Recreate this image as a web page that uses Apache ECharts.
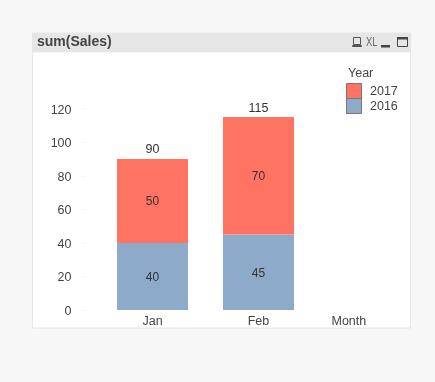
<!DOCTYPE html>
<html><head><meta charset="utf-8">
<style>html,body{margin:0;padding:0;background:#f7f7f7}#c{width:435px;height:382px}</style>
<script src="https://cdn.jsdelivr.net/npm/echarts@6/dist/echarts.min.js"></script>
</head><body><div id="c"></div>
<script>
const months = ['Jan','Feb'];
const sales2016 = [40,45];
const sales2017 = [50,70];
const totals = [90,115];
const chart = echarts.init(document.getElementById('c'),null,{renderer:'canvas'});
const F = 'Liberation Sans, Arial, sans-serif';
const seg = {show:true,position:'inside',color:'#333',fontFamily:F,fontSize:12,offset:[0,1]};
chart.setOption({
  animation:false,
  backgroundColor:'#f7f7f7',
  title:{text:'sum(Sales)',left:37,top:35,padding:0,textStyle:{fontFamily:F,fontSize:14,fontWeight:'bold',color:'#444'}},
  legend:{
    orient:'vertical',left:346,top:84,padding:0,itemGap:0,itemWidth:15,itemHeight:15,
    icon:'rect',data:['2017','2016'],selectedMode:false,
    textStyle:{fontFamily:F,fontSize:12.5,color:'#444',padding:[1,0,0,4]}
  },
  grid:{left:99.5,right:123.5,top:108.7,bottom:72},
  xAxis:{type:'category',data:months,
    axisLine:{show:false},axisTick:{show:false},
    axisLabel:{fontFamily:F,fontSize:12.5,color:'#444',margin:5},
    name:'Month',nameLocation:'end',nameGap:20,
    nameTextStyle:{fontFamily:F,fontSize:12.5,color:'#444',align:'left',verticalAlign:'top',padding:[5,0,0,0]}
  },
  yAxis:{type:'value',min:0,max:120,interval:20,offset:14,
    splitLine:{show:false},axisLine:{show:false},
    axisTick:{show:true,length:5,lineStyle:{color:'#f6f6f6'}},
    axisLabel:{fontFamily:F,fontSize:12.5,color:'#444',margin:14,verticalAlign:'top',lineHeight:3}
  },
  series:[
    {name:'2016',type:'bar',stack:'s',data:sales2016,barWidth:71,itemStyle:{color:'#8eaacb'},label:seg},
    {name:'2017',type:'bar',stack:'s',data:sales2017,barWidth:71,itemStyle:{color:'#ff7362'},label:seg},
    {name:'Total',type:'line',data:totals,symbol:'circle',symbolSize:1,showSymbol:true,itemStyle:{opacity:0},lineStyle:{opacity:0},
      label:{show:true,position:'top',distance:2,color:'#333',fontFamily:F,fontSize:12.5,opacity:1},silent:true}
  ],
  graphic:[
    {type:'rect',z:-1,silent:true,shape:{x:32.5,y:33,width:378,height:295},style:{fill:'#fff',stroke:'#e6e6e6',lineWidth:1}},
    {type:'rect',z:-1,silent:true,shape:{x:32,y:33,width:379,height:19.5},style:{fill:'#e6e6e6'}},
    {type:'text',x:348,y:67,silent:true,style:{text:'Year',fontFamily:F,fontSize:12.5,fill:'#444'}},
    {type:'rect',silent:true,z:10,shape:{x:346.5,y:83.5,width:15,height:15},style:{fill:'none',stroke:'#777',lineWidth:1}},
    {type:'rect',silent:true,z:10,shape:{x:346.5,y:98.5,width:15,height:15},style:{fill:'none',stroke:'#777',lineWidth:1}},
    {type:'rect',silent:true,shape:{x:353.5,y:37.5,width:7,height:7},style:{fill:'none',stroke:'#555',lineWidth:1}},
    {type:'rect',silent:true,shape:{x:352.5,y:45.5,width:9,height:1},style:{fill:'none',stroke:'#555',lineWidth:1}},
    {type:'text',x:366,y:35.5,scaleX:0.72,silent:true,style:{text:'XL',fontFamily:F,fontSize:13,fill:'#666'}},
    {type:'rect',silent:true,shape:{x:381,y:45,width:9,height:2.5},style:{fill:'#444'}},
    {type:'rect',silent:true,shape:{x:397.5,y:37.5,width:10,height:9},style:{fill:'none',stroke:'#444',lineWidth:1}},
    {type:'rect',silent:true,shape:{x:397,y:37,width:11,height:2.5},style:{fill:'#444'}}
  ]
});
</script></body></html>
